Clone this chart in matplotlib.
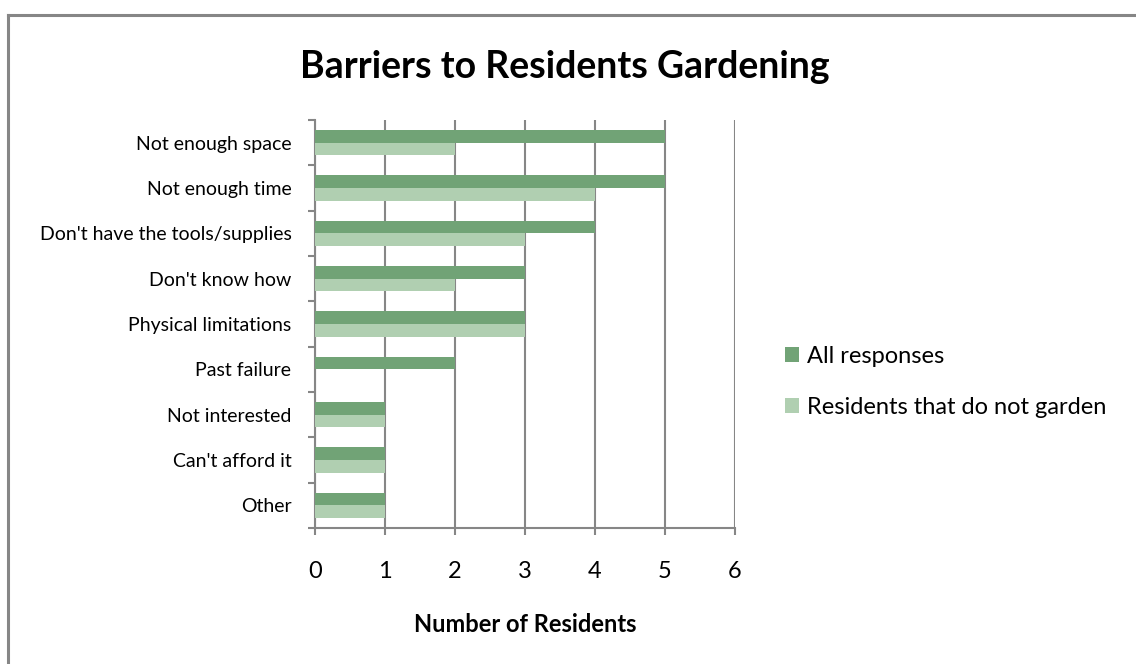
import numpy as np
import matplotlib
matplotlib.use("Agg")
import matplotlib.pyplot as plt
from matplotlib.lines import Line2D

plt.rcParams['font.family'] = ['Lato', 'DejaVu Sans']

# survey answers, top row first
categories = ["Not enough space", "Not enough time", "Don't have the tools/supplies",
              "Don't know how", "Physical limitations", "Past failure",
              "Not interested", "Can't afford it", "Other"]
all_responses = [5, 5, 4, 3, 3, 2, 1, 1, 1]
non_gardeners = [2, 4, 3, 2, 3, 0, 1, 1, 1]
series_names = ["All responses", "Residents that do not garden"]
x_ticks = [0, 1, 2, 3, 4, 5, 6]

dark_green = "#71a376"
light_green = "#b0cfb1"
grey = "#868686"

fig = plt.figure(figsize=(11.36, 6.64), dpi=100)
ax = fig.add_axes([0.2773, 0.2048, 0.3697, 0.6145])

y = np.arange(len(categories))
h = 0.28
ax.barh(y - h / 2, all_responses, height=h, color=dark_green, label=series_names[0], zorder=3)
ax.barh(y + h / 2, non_gardeners, height=h, color=light_green, label=series_names[1], zorder=3)

ax.set_xlim(0, 6)
ax.set_ylim(len(categories) - 0.5, -0.5)

# vertical gridlines
ax.set_xticks(x_ticks)
ax.grid(axis='x', color=grey, linewidth=1.5, zorder=1)
ax.set_axisbelow(True)
ax.tick_params(axis='x', direction='out', length=5, width=1.5, color=grey,
               labelsize=17, pad=19)

ax.set_yticks(y)
ax.set_yticklabels(categories, fontsize=14)
ax.set_yticks(np.arange(-0.5, len(categories), 1), minor=True)
ax.tick_params(axis='y', which='major', length=0, pad=17)
ax.tick_params(axis='y', which='minor', direction='out', length=5, width=1.5, color=grey)

for side in ['top', 'right']:
    ax.spines[side].set_visible(False)
for side in ['left', 'bottom']:
    ax.spines[side].set_color(grey)
    ax.spines[side].set_linewidth(1.5)

ax.set_xlabel("Number of Residents", fontsize=17, fontweight='bold', labelpad=22)

fig.text(0.4975, 0.899, "Barriers to Residents Gardening", fontsize=27,
         fontweight='bold', ha='center', va='center')

fig.legend(loc='center left', bbox_to_anchor=(0.6725, 0.425), frameon=False,
           fontsize=17, handlelength=0.6, handleheight=0.6,
           handletextpad=0.34, labelspacing=1.25)

# outer chart border (left and top edges)
fig.add_artist(Line2D([0.0070, 0.0070], [0.0, 0.978], transform=fig.transFigure,
                      color=grey, linewidth=2.2))
fig.add_artist(Line2D([0.0070, 1.0], [0.978, 0.978], transform=fig.transFigure,
                      color=grey, linewidth=2.2))

fig.savefig("out.png", dpi=100)
